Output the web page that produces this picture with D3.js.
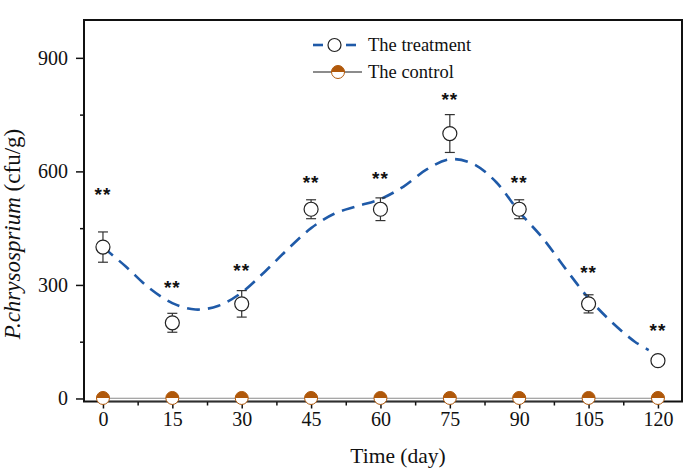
<!DOCTYPE html>
<html>
<head>
<meta charset="utf-8">
<script src="https://cdn.jsdelivr.net/npm/d3@7/dist/d3.min.js"></script>
<style>
  html, body { margin: 0; padding: 0; background: #fff; }
  svg { display: block; }
</style>
</head>
<body>
<svg id="chart" width="685" height="470"></svg>
<script>
// ---------------- data ----------------
const days = [0, 15, 30, 45, 60, 75, 90, 105, 120];
const treatment = [400, 200, 250, 500, 500, 700, 500, 250, 100];
const treatmentErr = [40, 25, 35, 25, 30, 50, 25, 24, 6];
const control = [0, 0, 0, 0, 0, 0, 0, 0, 0];
const starY = [530, 284, 329, 562, 572, 781, 562, 324, 170];   // "**" label positions (data units)
const fitDays = [0, 5, 10, 15, 20, 25, 30, 35, 40, 45, 50, 55, 60, 65, 70, 75, 80, 85, 90, 95, 100, 105, 110, 115, 118];
const fitValues = [400, 348, 292, 252, 235, 245, 280, 335, 395, 450, 488, 508, 527, 560, 605, 632, 620, 572, 493, 425, 343, 265, 202, 150, 128];
const xTicks = [0, 15, 30, 45, 60, 75, 90, 105, 120];
const xMinor = [7.5, 22.5, 37.5, 52.5, 67.5, 82.5, 97.5, 112.5];
const yTicks = [0, 300, 600, 900];
const yMinor = [150, 450, 750];
const seriesNames = ["The treatment", "The control"];

// ---------------- layout ----------------
const svg = d3.select("#chart");
const L = 84, R = 682, T = 20, B = 401.5;
const x = d3.scaleLinear().domain([-4.1, 125.2]).range([L, R]);
const y = d3.scaleLinear().domain([-8, 1000]).range([B, T]);

const serif = "'Liberation Serif', 'Times New Roman', serif";
const blue = "#1f5aa8";
const brown = "#b0580a";

// x axis
const xAxis = svg.append("g").attr("transform", `translate(0,${B})`)
  .call(d3.axisBottom(x).tickValues(xTicks).tickSize(7).tickSizeOuter(0).tickPadding(3));
xAxis.select(".domain").remove();
xAxis.selectAll("text").attr("font-family", serif).attr("font-size", 20).attr("fill", "#111");
xAxis.selectAll("line").attr("stroke", "#111").attr("stroke-width", 1.5);
const xAxisMinor = svg.append("g").attr("transform", `translate(0,${B})`)
  .call(d3.axisBottom(x).tickValues(xMinor).tickSize(4).tickSizeOuter(0).tickFormat(""));
xAxisMinor.select(".domain").remove();
xAxisMinor.selectAll("line").attr("stroke", "#111").attr("stroke-width", 1.5);

// y axis
const yAxis = svg.append("g").attr("transform", `translate(${L},0)`)
  .call(d3.axisLeft(y).tickValues(yTicks).tickSize(8).tickSizeOuter(0).tickPadding(8));
yAxis.select(".domain").remove();
yAxis.selectAll("text").attr("font-family", serif).attr("font-size", 20).attr("fill", "#111");
yAxis.selectAll("line").attr("stroke", "#111").attr("stroke-width", 1.5);
const yAxisMinor = svg.append("g").attr("transform", `translate(${L},0)`)
  .call(d3.axisLeft(y).tickValues(yMinor).tickSize(4).tickSizeOuter(0).tickFormat(""));
yAxisMinor.select(".domain").remove();
yAxisMinor.selectAll("line").attr("stroke", "#111").attr("stroke-width", 1.5);

// frame
svg.append("rect").attr("x", L).attr("y", T).attr("width", R - L).attr("height", B - T)
  .attr("fill", "none").attr("stroke", "#111").attr("stroke-width", 2);

// axis titles
svg.append("text").attr("x", 398).attr("y", 463).attr("text-anchor", "middle")
  .attr("font-family", serif).attr("font-size", 21.5).attr("fill", "#111").text("Time (day)");
const yt = svg.append("text").attr("transform", "translate(20,234) rotate(-90)")
  .attr("text-anchor", "middle").attr("font-family", serif).attr("font-size", 23).attr("fill", "#111");
yt.append("tspan").attr("font-style", "italic").text("P.chrysosprium");
yt.append("tspan").text(" (cfu/g)");

// control line (double gray line)
const ctrlLine = d3.line().x((d, i) => x(days[i])).y(d => y(d) + 1);
svg.append("path").datum(control).attr("d", ctrlLine).attr("fill", "none")
  .attr("stroke", "#8a8a8a").attr("stroke-width", 3.6);
svg.append("path").datum(control).attr("d", ctrlLine).attr("fill", "none")
  .attr("stroke", "#fff").attr("stroke-width", 1.2);

// fitted dashed curve
const fitLine = d3.line().x((d, i) => x(fitDays[i])).y(d => y(d)).curve(d3.curveCatmullRom);
svg.append("path").datum(fitValues).attr("d", fitLine).attr("fill", "none")
  .attr("stroke", blue).attr("stroke-width", 2.6).attr("stroke-dasharray", "13,8");

// error bars
const eb = svg.append("g").attr("stroke", "#333").attr("stroke-width", 1.2);
treatment.forEach((v, i) => {
  const cx = x(days[i]);
  eb.append("line").attr("x1", cx).attr("x2", cx).attr("y1", y(v + treatmentErr[i])).attr("y2", y(v - treatmentErr[i]));
  eb.append("line").attr("x1", cx - 5).attr("x2", cx + 5).attr("y1", y(v + treatmentErr[i])).attr("y2", y(v + treatmentErr[i]));
  eb.append("line").attr("x1", cx - 5).attr("x2", cx + 5).attr("y1", y(v - treatmentErr[i])).attr("y2", y(v - treatmentErr[i]));
});

// treatment markers
svg.append("g").selectAll("circle").data(treatment).join("circle")
  .attr("cx", (d, i) => x(days[i])).attr("cy", d => y(d)).attr("r", 7)
  .attr("fill", "#fff").attr("stroke", "#222").attr("stroke-width", 1.2);

// control half-filled markers
function halfMarker(g, cx, cy, r) {
  g.append("circle").attr("cx", cx).attr("cy", cy).attr("r", r).attr("fill", "#fff").attr("stroke", brown).attr("stroke-width", 1);
  g.append("path").attr("d", `M${cx - r},${cy} A${r},${r} 0 0 1 ${cx + r},${cy} Z`).attr("fill", brown);
}
const cm = svg.append("g");
control.forEach((v, i) => halfMarker(cm, x(days[i]), y(v) - 0.5, 6.5));

// significance stars
svg.append("g").selectAll("text").data(starY).join("text")
  .attr("x", (d, i) => x(days[i])).attr("y", d => y(d) + 3)
  .attr("text-anchor", "middle").attr("font-family", "'Liberation Sans', Arial, sans-serif")
  .attr("font-weight", "bold").attr("font-size", 19).attr("letter-spacing", 1).attr("fill", "#111")
  .text("**");

// legend
const lg = svg.append("g");
lg.append("line").attr("x1", 313).attr("x2", 323).attr("y1", 45).attr("y2", 45).attr("stroke", blue).attr("stroke-width", 2.6);
lg.append("line").attr("x1", 346).attr("x2", 356).attr("y1", 45).attr("y2", 45).attr("stroke", blue).attr("stroke-width", 2.6);
lg.append("circle").attr("cx", 334.5).attr("cy", 45).attr("r", 6.5).attr("fill", "#fff").attr("stroke", "#222").attr("stroke-width", 1.2);
lg.append("text").attr("x", 368).attr("y", 51).attr("font-family", serif).attr("font-size", 18.5).attr("fill", "#111").text(seriesNames[0]);
lg.append("line").attr("x1", 313).attr("x2", 362).attr("y1", 72).attr("y2", 72).attr("stroke", "#666").attr("stroke-width", 1.3);
halfMarker(lg, 338, 72, 6.5);
lg.append("text").attr("x", 368).attr("y", 78).attr("font-family", serif).attr("font-size", 18.5).attr("fill", "#111").text(seriesNames[1]);
</script>
</body>
</html>
